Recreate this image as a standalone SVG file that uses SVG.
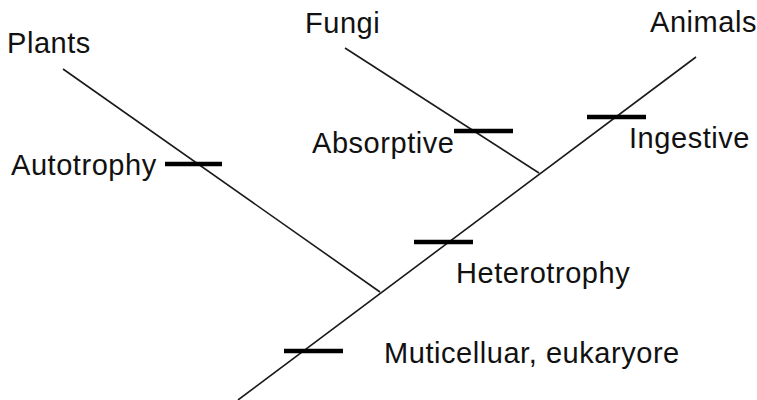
<svg xmlns="http://www.w3.org/2000/svg" width="757" height="400" viewBox="0 0 757 400">
<style>
.br{stroke:#1a1a1a;stroke-width:1.6;fill:none}
.tk{stroke:#000;stroke-width:4.5}
text{font-family:"Liberation Sans",Arial,sans-serif;font-size:29px;letter-spacing:0.55px;fill:#111}
</style>
<rect width="757" height="400" fill="#fff"/>
<g id="connectors">
<line class="br" x1="238" y1="400" x2="696" y2="57"/>
<line class="br" x1="63" y1="69" x2="380" y2="292"/>
<line class="br" x1="345" y1="48" x2="539" y2="173"/>
</g>
<g id="plants"><text x="7" y="53">Plants</text></g>
<g id="fungi"><text x="305" y="33">Fungi</text></g>
<g id="animals"><text x="650" y="32">Animals</text></g>
<g id="autotrophy"><line class="tk" x1="165" y1="164" x2="222" y2="164"/><text x="11" y="175">Autotrophy</text></g>
<g id="absorptive"><line class="tk" x1="454" y1="131" x2="513" y2="131"/><text x="312" y="153">Absorptive</text></g>
<g id="ingestive"><line class="tk" x1="587" y1="117" x2="646" y2="117"/><text x="629" y="148">Ingestive</text></g>
<g id="heterotrophy"><line class="tk" x1="414" y1="242" x2="473" y2="242"/><text x="456" y="283">Heterotrophy</text></g>
<g id="multicellular"><line class="tk" x1="284" y1="351" x2="343" y2="351"/><text x="384" y="363">Muticelluar, eukaryore</text></g>
</svg>
